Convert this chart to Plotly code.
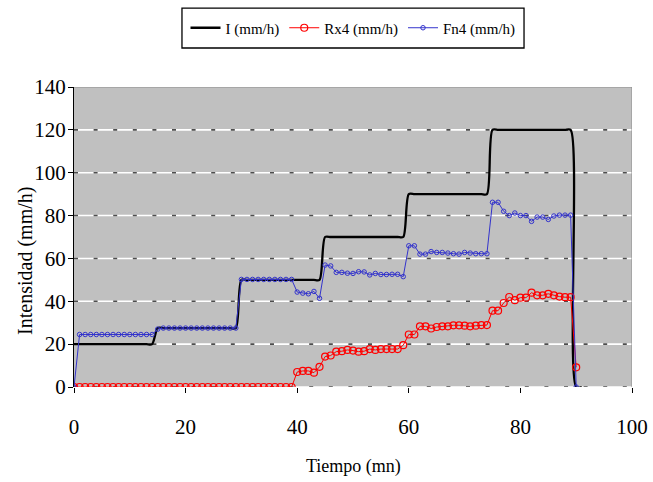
import plotly.graph_objects as go

# Time (minutes)
tiempo = list(range(0, 91))
tiempo_i = list(range(0, 92))

# Rain intensity applied, I (mm/h)
intensidad_i = [
    20, 20, 20, 20, 20, 20, 20, 20, 20, 20, 20, 20, 20, 20, 20,
    27.5, 27.5, 27.5, 27.5, 27.5, 27.5, 27.5, 27.5, 27.5, 27.5, 27.5, 27.5, 27.5, 27.5, 27.5,
    50, 50, 50, 50, 50, 50, 50, 50, 50, 50, 50, 50, 50, 50, 50,
    70, 70, 70, 70, 70, 70, 70, 70, 70, 70, 70, 70, 70, 70, 70,
    90, 90, 90, 90, 90, 90, 90, 90, 90, 90, 90, 90, 90, 90, 90,
    120, 120, 120, 120, 120, 120, 120, 120, 120, 120, 120, 120, 120, 120, 120,
    0, 0,
]

# Runoff, Rx4 (mm/h)
rx4 = [
    0, 0, 0, 0, 0, 0, 0, 0, 0, 0,
    0, 0, 0, 0, 0, 0, 0, 0, 0, 0,
    0, 0, 0, 0, 0, 0, 0, 0, 0, 0,
    0, 0, 0, 0, 0, 0, 0, 0, 0, 0,
    7.0, 7.5, 7.5, 6.7, 9.4, 14.2, 14.7, 16.5, 16.7, 17.3,
    17.0, 16.5, 16.7, 17.7, 17.3, 17.7, 17.7, 17.7, 17.7, 19.5,
    24.5, 24.5, 28.3, 28.3, 27.3, 28.0, 28.3, 28.3, 28.8, 28.8,
    28.6, 28.3, 28.6, 28.9, 28.9, 35.6, 35.6, 39.2, 42.0, 40.5,
    41.7, 41.7, 44.0, 42.8, 42.8, 43.5, 42.8, 42.2, 41.9, 41.9,
    9.2,
]

# Infiltration, Fn4 (mm/h)
fn4 = [
    0, 24.5, 24.5, 24.5, 24.5, 24.5, 24.5, 24.5, 24.5, 24.5,
    24.5, 24.5, 24.5, 24.5, 24.5, 27.0, 27.5, 27.5, 27.5, 27.5,
    27.5, 27.5, 27.5, 27.5, 27.5, 27.5, 27.5, 27.5, 27.5, 27.5,
    50.2, 50.2, 50.2, 50.2, 50.2, 50.2, 50.2, 50.2, 50.2, 50.2,
    44.3, 43.8, 43.5, 44.6, 41.4, 56.9, 56.5, 53.5, 53.5, 53.1,
    53.0, 53.8, 53.7, 52.3, 53.0, 52.5, 52.5, 52.6, 52.6, 51.5,
    65.9, 65.9, 62.0, 62.0, 63.2, 62.8, 62.8, 62.5, 62.2, 62.0,
    62.8, 62.5, 62.2, 62.2, 62.2, 86.2, 86.2, 82.0, 80.0, 81.2,
    80.0, 80.0, 77.3, 79.3, 79.3, 78.2, 79.8, 80.2, 80.2, 80.2,
    0,
]

x_ticks = [0, 20, 40, 60, 80, 100]
y_ticks = [0, 20, 40, 60, 80, 100, 120, 140]

SERIF = "Liberation Serif"
TICK_FONT = dict(family=SERIF, size=21, color="black")

fig = go.Figure()

fig.add_trace(go.Scatter(
    x=tiempo_i, y=intensidad_i, name="I (mm/h)", mode="lines",
    line=dict(color="black", width=2.3, shape="spline", smoothing=0.8),
))
fig.add_trace(go.Scatter(
    x=tiempo, y=rx4, name="Rx4 (mm/h)", mode="lines+markers",
    line=dict(color="#FF0000", width=1),
    marker=dict(symbol="circle-open", size=7, color="#FF0000", line=dict(width=1.2)),
))
fig.add_trace(go.Scatter(
    x=tiempo, y=fn4, name="Fn4 (mm/h)", mode="lines+markers",
    line=dict(color="#3333CC", width=1),
    marker=dict(symbol="circle-open", size=4.5, color="#3333CC", line=dict(width=1)),
))

# Gridlines: white strokes with short dark dashes on top
shapes = []
for yv in y_ticks[:-1]:
    shapes.append(dict(
        type="line", xref="x", yref="y", x0=0, x1=100, y0=yv, y1=yv,
        line=dict(color="white", width=1.6), layer="below",
    ))
    shapes.append(dict(
        type="line", xref="x", yref="y", x0=0, x1=100, y0=yv, y1=yv,
        line=dict(color="#4d4d4d", width=1.6, dash="4px,15.6px"), layer="below",
    ))
# Grey frame on top and right of the plot area
shapes.append(dict(type="line", xref="x", yref="y", x0=0, x1=100, y0=140, y1=140,
                   line=dict(color="#8c8c8c", width=1)))
shapes.append(dict(type="line", xref="x", yref="y", x0=100, x1=100, y0=0, y1=140,
                   line=dict(color="#8c8c8c", width=1)))
# Legend frame
shapes.append(dict(type="rect", xref="paper", yref="paper",
                   x0=0.1935, x1=0.8065, y0=1.13, y1=1.263,
                   line=dict(color="black", width=1.3), fillcolor="rgba(0,0,0,0)",
                   layer="above"))

fig.update_layout(
    width=653, height=482,
    margin=dict(l=74, r=21, t=87, b=95),
    paper_bgcolor="white",
    plot_bgcolor="#C0C0C0",
    font=dict(family=SERIF, size=21, color="black"),
    showlegend=True,
    legend=dict(
        orientation="h", x=0.5, xanchor="center", xref="paper",
        y=1.1967, yanchor="middle", yref="paper",
        borderwidth=0, bgcolor="rgba(0,0,0,0)",
        font=dict(family=SERIF, size=15, color="black"),
        itemwidth=30, tracegroupgap=0,
    ),
    shapes=shapes,
    annotations=[
        dict(text="Tiempo (mn)", xref="paper", yref="paper", x=0.5, y=-0.265,
             xanchor="center", yanchor="middle", showarrow=False,
             font=dict(family=SERIF, size=18, color="black")),
        dict(text="Intensidad (mm/h)", xref="paper", yref="paper", x=-0.088, y=0.42,
             xanchor="center", yanchor="middle", showarrow=False, textangle=-90,
             font=dict(family=SERIF, size=20, color="black")),
    ],
)

fig.update_xaxes(
    range=[0, 100], tickvals=x_ticks, showgrid=False, zeroline=False,
    showline=False, ticks="outside", ticklen=5, tickcolor="black",
    tickfont=TICK_FONT, ticklabelstandoff=16, automargin=False,
)
fig.update_yaxes(
    range=[0, 140], tickvals=y_ticks, showgrid=False,
    zeroline=False, showline=True, linecolor="black",
    linewidth=1, ticks="outside", ticklen=5, tickcolor="black",
    tickfont=TICK_FONT, ticklabelstandoff=-2, automargin=False,
)

fig.write_html("out.html")
